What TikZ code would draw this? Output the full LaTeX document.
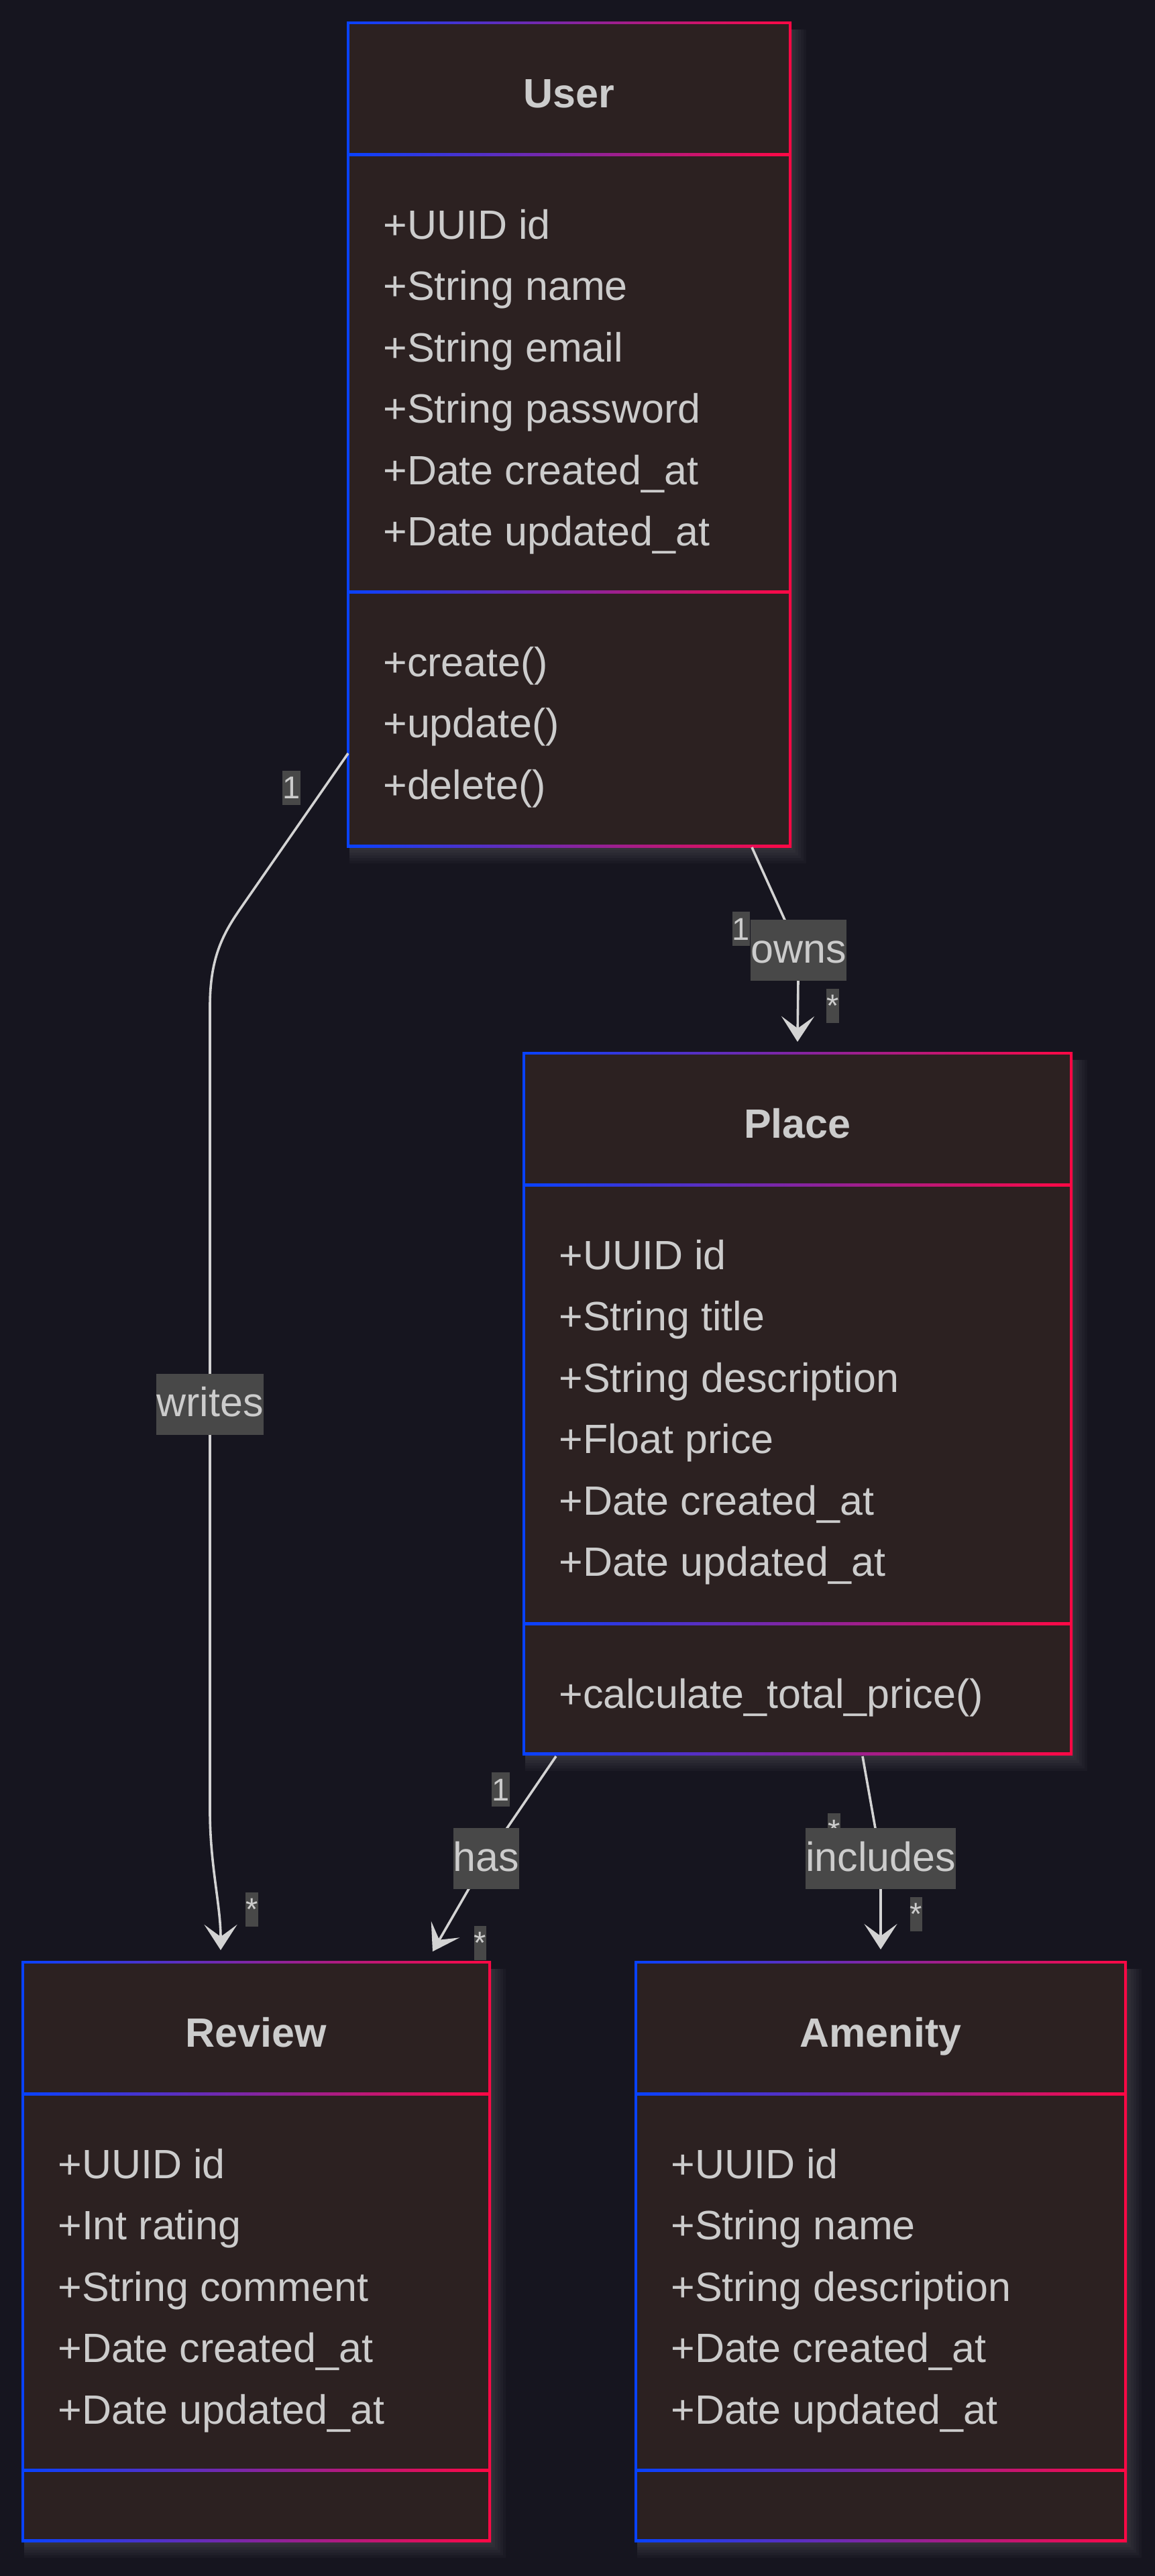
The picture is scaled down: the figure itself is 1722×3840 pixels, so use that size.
\documentclass[tikz,border=0pt]{standalone}
\usepackage{fontspec}
\setmainfont{Liberation Sans}
\usetikzlibrary{arrows.meta}
\definecolor{bgc}{RGB}{22,21,31}
\definecolor{boxc}{RGB}{44,33,33}
\definecolor{bblue}{RGB}{8,66,255}
\definecolor{bred}{RGB}{255,8,68}
\definecolor{txtc}{RGB}{204,204,204}
\definecolor{linec}{RGB}{211,211,211}
\definecolor{labc}{RGB}{72,72,72}
\newcommand\umlbox[7]{%
  \foreach \k in {1,...,6} \fill[white, opacity=0.022] (#2+2,#3+10) rectangle (#4+4*\k,#5+4*\k+2);
  \shade[left color=bblue, right color=bred] (#2-2,#3-2) rectangle (#4+2,#5+2);
  \fill[boxc] (#2+2,#3+2) rectangle (#4-2,#5-2);
  \shade[left color=bblue, right color=bred] (#2,#6-2) rectangle (#4,#6+2);
  \shade[left color=bblue, right color=bred] (#2,#7-2) rectangle (#4,#7+2);
  \node[inner sep=0pt, minimum width={(#4-#2)*0.5pt}, minimum height={(#5-#3)*0.5pt}] (#1) at ({(#2+#4)/2},{(#3+#5)/2}) {};
}
\begin{document}
\begin{tikzpicture}[x=0.5pt,y=-0.5pt,
  txt/.style={inner sep=0pt, anchor=base west, text=txtc, font=\fontsize{30.5}{36}\selectfont},
  ttl/.style={inner sep=0pt, anchor=base, text=txtc, font=\fontsize{30.5}{36}\selectfont\bfseries},
  elab/.style={fill=labc, text=txtc, inner xsep=0pt, inner ysep=0pt, text height=25pt, text depth=6.5pt, minimum height=45.5pt, font=\fontsize{30.5}{36}\selectfont},
  mlab/.style={fill=labc, text=txtc, inner xsep=0pt, inner ysep=0pt, text height=21pt, text depth=4.5pt, font=\fontsize{23.5}{28}\selectfont},
  conn/.style={draw=linec, line width=1.8pt},
  arr/.style={-{Stealth[length=19pt,width=24.5pt,inset=9pt]}},
]
\fill[bgc] (0,0) rectangle (1722,3840);
\useasboundingbox (0,0) rectangle (1722,3840);

% ---------- boxes ----------
\umlbox{user}{519}{34}{1178}{1261}{230}{882}
\umlbox{place}{781}{1570}{1597}{2614}{1766}{2420}
\umlbox{review}{34}{2925}{730}{3787}{3121}{3682}
\umlbox{amenity}{948}{2925}{1678}{3787}{3121}{3682}

% ---------- User ----------
\node[ttl] (ut) at (848.5,160) {User};
\foreach \t [count=\i] in {+UUID id,+String name,+String email,+String password,+Date created\_at,+Date updated\_at}
  \node[txt] (ua\i) at (571,{356+(\i-1)*91.5}) {\t};
\foreach \t [count=\i] in {+create(),+update(),+delete()}
  \node[txt] (um\i) at (571,{1008+(\i-1)*91.5}) {\t};

% ---------- Place ----------
\node[ttl] (pt) at (1189,1696) {Place};
\foreach \t [count=\i] in {+UUID id,+String title,+String description,+Float price,+Date created\_at,+Date updated\_at}
  \node[txt] (pa\i) at (833,{1892+(\i-1)*91.5}) {\t};
\node[txt] (pm1) at (833,2546) {+calculate\_total\_price()};

% ---------- Review ----------
\node[ttl] (rt) at (382,3051) {Review};
\foreach \t [count=\i] in {+UUID id,+Int rating,+String comment,+Date created\_at,+Date updated\_at}
  \node[txt] (ra\i) at (86,{3247+(\i-1)*91.5}) {\t};

% ---------- Amenity ----------
\node[ttl] (at) at (1313,3051) {Amenity};
\foreach \t [count=\i] in {+UUID id,+String name,+String description,+Date created\_at,+Date updated\_at}
  \node[txt] (aa\i) at (1000,{3247+(\i-1)*91.5}) {\t};

% ---------- connector points ----------
\coordinate (uw) at (519,1123);
\coordinate (w1) at (358,1355);
\coordinate (w2) at (313,1500);
\coordinate (w3) at (313,2700);
\coordinate (rtip1) at (329,2907);
\coordinate (us) at (1121,1263);
\coordinate (ptip) at (1189,1553);
\coordinate (ps1) at (829,2618);
\coordinate (rtip2) at (645,2909);
\coordinate (ps2) at (1286,2618);
\coordinate (atip) at (1313,2906);

\path (313,2093) node[elab] (wlab) {writes};
\path (1190.5,1416.5) node[elab] (olab) {owns};
\path (725,2770.5) node[elab] (hlab) {has};
\path (1313,2770.5) node[elab] (ilab) {includes};

% ---------- connectors ----------
\draw[conn,arr] (uw) -- (w1) .. controls (331,1394) and (313,1430) .. (w2) -- (wlab.center) -- (w3) .. controls (313,2780) and (329,2840) .. (rtip1);
\draw[conn,arr] (us) -- (olab.center) -- (ptip);
\draw[conn,arr] (ps1) -- (hlab.center) -- (rtip2);
\draw[conn,arr] (ps2) -- (ilab.center) -- (atip);

% ---------- multiplicities ----------
\node[mlab] (m1) at (434.5,1174) {1};
\node[mlab] (m2) at (375.5,2846) {*};
\node[mlab] (m3) at (1105,1384.5) {1};
\node[mlab] (m4) at (1241.5,1499) {*};
\node[mlab] (m5) at (746.5,2667.5) {1};
\node[mlab] (m6) at (716,2896) {*};
\node[mlab] (m7) at (1243.5,2728.5) {*};
\node[mlab] (m8) at (1366,2853) {*};

% ---------- edge labels on top ----------
\node[elab] at (wlab) {writes};
\node[elab] at (olab) {owns};
\node[elab] at (hlab) {has};
\node[elab] at (ilab) {includes};
\end{tikzpicture}
\end{document}
